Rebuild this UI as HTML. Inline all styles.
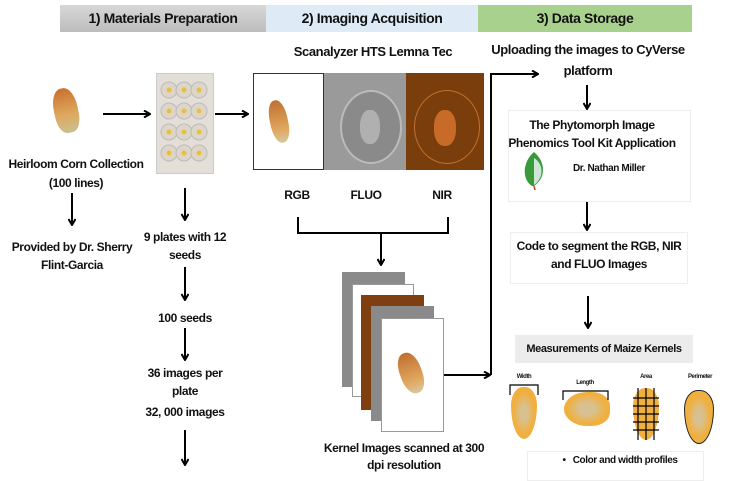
<!DOCTYPE html>
<html><head><style>
body{margin:0;width:731px;height:476px;background:#fff;position:relative;overflow:hidden;font-family:"Liberation Sans Narrow","Liberation Sans",sans-serif;font-weight:bold;color:#111}
.t{position:absolute;font-size:12px;text-align:center;white-space:nowrap;transform:translateX(-50%);letter-spacing:-0.4px;line-height:18px}
.a{position:absolute}
</style></head><body>
<div class="a" style="left:60px;top:5px;width:206px;height:27px;background:linear-gradient(#d8d8d8,#bdbdbd)"></div>
<div class="a" style="left:266px;top:5px;width:212px;height:27px;background:#deebf7"></div>
<div class="a" style="left:478px;top:5px;width:214px;height:27px;background:#a9d18e"></div>
<div class="t" style="left:163px;top:9px;font-size:14px">1) Materials Preparation</div>
<div class="t" style="left:372px;top:9px;font-size:14px">2) Imaging Acquisition</div>
<div class="t" style="left:585px;top:9px;font-size:14px">3) Data Storage</div>

<div class="t" style="left:373px;top:43px;font-size:13px">Scanalyzer HTS Lemna Tec</div>
<div class="t" style="left:588px;top:39px;font-size:13px;line-height:21px">Uploading the images to CyVerse<br>platform</div>

<!-- kernel -->
<div class="a" style="left:54px;top:88px;width:24px;height:45px;border-radius:45% 45% 40% 40%;background:linear-gradient(#c8722e,#e0a860 60%,#c9c090);transform:rotate(-12deg)"></div>
<!-- plate -->
<div class="a" style="left:156px;top:73px;width:56px;height:99px;background:#e3dfd8;border:1px solid #ccc"></div>
<svg class="a" style="left:156px;top:73px" width="56" height="99">
<g fill="#ddd6c8" stroke="#bbb">
<circle cx="13" cy="17" r="8"/><circle cx="28" cy="17" r="8"/><circle cx="43" cy="17" r="8"/>
<circle cx="13" cy="38" r="8"/><circle cx="28" cy="38" r="8"/><circle cx="43" cy="38" r="8"/>
<circle cx="13" cy="59" r="8"/><circle cx="28" cy="59" r="8"/><circle cx="43" cy="59" r="8"/>
<circle cx="13" cy="80" r="8"/><circle cx="28" cy="80" r="8"/><circle cx="43" cy="80" r="8"/></g>
<g fill="#e8c040"><circle cx="13" cy="17" r="2.5"/><circle cx="28" cy="17" r="2.5"/><circle cx="43" cy="17" r="2.5"/><circle cx="13" cy="38" r="2.5"/><circle cx="28" cy="38" r="2.5"/><circle cx="43" cy="38" r="2.5"/><circle cx="13" cy="59" r="2.5"/><circle cx="28" cy="59" r="2.5"/><circle cx="43" cy="59" r="2.5"/><circle cx="13" cy="80" r="2.5"/><circle cx="28" cy="80" r="2.5"/><circle cx="43" cy="80" r="2.5"/></g>
</svg>
<!-- image strip -->
<div class="a" style="left:253px;top:73px;width:71px;height:97px;background:#fff;border:1px solid #333;box-sizing:border-box"></div>
<div class="a" style="left:270px;top:100px;width:18px;height:43px;border-radius:45%;background:linear-gradient(#c07030,#e0a860 70%,#d8c8a0);transform:rotate(-12deg)"></div>
<div class="a" style="left:324px;top:73px;width:82px;height:97px;background:#9a9a9a"></div>
<div class="a" style="left:340px;top:90px;width:58px;height:70px;border-radius:50%;background:#8a8a8a;border:2px solid #bbb"></div>
<div class="a" style="left:360px;top:110px;width:20px;height:34px;border-radius:45%;background:#b0b0b0"></div>
<div class="a" style="left:406px;top:73px;width:78px;height:97px;background:#7a3e0c"></div>
<div class="a" style="left:414px;top:90px;width:64px;height:72px;border-radius:50%;border:1px solid #c07030"></div>
<div class="a" style="left:434px;top:110px;width:22px;height:36px;border-radius:45%;background:#c86a28"></div>

<div class="t" style="left:76px;top:155px;line-height:19px">Heirloom Corn Collection<br>(100 lines)</div>
<div class="t" style="left:72px;top:238px">Provided by Dr. Sherry<br>Flint-Garcia</div>
<div class="t" style="left:185px;top:228px">9 plates with 12<br>seeds</div>
<div class="t" style="left:185px;top:309px">100 seeds</div>
<div class="t" style="left:185px;top:364px">36 images per<br>plate</div>
<div class="t" style="left:185px;top:403px">32, 000 images</div>
<div class="t" style="left:297px;top:186px">RGB</div>
<div class="t" style="left:366px;top:186px">FLUO</div>
<div class="t" style="left:442px;top:186px">NIR</div>

<!-- stack -->
<div class="a" style="left:342px;top:272px;width:63px;height:115px;background:#8a8a8a"></div>
<div class="a" style="left:352px;top:284px;width:62px;height:113px;background:#fff;border:1px solid #999;box-sizing:border-box"></div>
<div class="a" style="left:361px;top:295px;width:63px;height:115px;background:#7f3f10"></div>
<div class="a" style="left:371px;top:306px;width:63px;height:115px;background:#8a8a8a"></div>
<div class="a" style="left:381px;top:318px;width:63px;height:114px;background:#fff;border:1px solid #999;box-sizing:border-box"></div>
<div class="a" style="left:400px;top:352px;width:22px;height:42px;border-radius:45%;background:linear-gradient(#c07030,#e0a860 70%,#d8c8a0);transform:rotate(-20deg)"></div>
<div class="t" style="left:404px;top:440px;line-height:17px">Kernel Images scanned at 300<br>dpi resolution</div>

<!-- right column -->
<div class="a" style="left:508px;top:110px;width:183px;height:92px;border:1px solid #eee;box-sizing:border-box"></div>
<div class="t" style="left:592px;top:116px;line-height:18px">The Phytomorph Image<br>Phenomics Tool Kit Application</div>
<svg class="a" style="left:520px;top:150px" width="28" height="40"><path d="M14 2 C2 12 2 30 12 36 L14 36 C26 28 26 12 14 2Z" fill="#3a9a3a"/><path d="M14 8 C24 14 24 28 14 35Z" fill="#cde6d8"/><line x1="14" y1="36" x2="15" y2="40" stroke="#c04020" stroke-width="1.5"/></svg>
<div class="t" style="left:609px;top:160px;font-size:10px">Dr. Nathan Miller</div>
<div class="a" style="left:510px;top:232px;width:178px;height:52px;border:1px solid #eee;box-sizing:border-box"></div>
<div class="t" style="left:599px;top:237px;line-height:18px">Code to segment the RGB, NIR<br>and FLUO Images</div>
<div class="a" style="left:515px;top:335px;width:178px;height:28px;background:#ececec"></div>
<div class="t" style="left:604px;top:340px;font-size:11px">Measurements of Maize Kernels</div>
<div class="a" style="left:527px;top:451px;width:177px;height:30px;border:1px solid #eee;box-sizing:border-box"></div>
<div class="t" style="left:620px;top:452px;font-size:10px">•&nbsp;&nbsp; Color and width profiles</div>
<div class="t" style="left:524px;top:373px;font-size:6px;line-height:8px">Width</div>
<div class="t" style="left:585px;top:379px;font-size:6px;line-height:8px">Length</div>
<div class="t" style="left:646px;top:373px;font-size:6px;line-height:8px">Area</div>
<div class="t" style="left:700px;top:373px;font-size:6px;line-height:8px">Perimeter</div>
<div class="a" style="left:511px;top:387px;width:26px;height:52px;border-radius:45% 45% 50% 50%/35% 35% 65% 65%;background:radial-gradient(#d8c090 20%,#f0b040 55%)"></div>
<div class="a" style="left:564px;top:392px;width:46px;height:34px;border-radius:50% 40% 40% 50%;background:radial-gradient(#d8c090 25%,#f0b040 60%)"></div>
<div class="a" style="left:633px;top:388px;width:26px;height:52px;border-radius:45% 45% 50% 50%/35% 35% 65% 65%;background:#f0b040"></div>
<div class="a" style="left:684px;top:390px;width:28px;height:52px;border-radius:45% 45% 50% 50%/35% 35% 65% 65%;background:radial-gradient(#d8c090 20%,#f0b040 55%);border:1.5px solid #222"></div>

<svg class="a" style="left:0;top:0" width="731" height="476" fill="none" stroke="#000" stroke-width="2">
<defs><marker id="h" markerWidth="8" markerHeight="8" refX="7" refY="4" orient="auto" markerUnits="userSpaceOnUse"><path d="M1 0.5 L7 4 L1 7.5" fill="none" stroke="#000" stroke-width="2"/></marker></defs>
<line x1="103" y1="114" x2="150" y2="114" marker-end="url(#h)"/>
<line x1="215" y1="114" x2="248" y2="114" marker-end="url(#h)"/>
<line x1="72" y1="193" x2="72" y2="225" marker-end="url(#h)"/>
<line x1="185" y1="188" x2="185" y2="220" marker-end="url(#h)"/>
<line x1="185" y1="267" x2="185" y2="300" marker-end="url(#h)"/>
<line x1="185" y1="328" x2="185" y2="360" marker-end="url(#h)"/>
<line x1="185" y1="430" x2="185" y2="465" marker-end="url(#h)"/>
<polyline points="298,217 298,233 448,233 448,217"/>
<line x1="381" y1="233" x2="381" y2="265" marker-end="url(#h)"/>
<polyline points="444,375 490,375" />
<line x1="482" y1="375" x2="490" y2="375" marker-end="url(#h)"/>
<polyline points="491,375 491,74 538,74" marker-end="url(#h)"/>
<line x1="587" y1="85" x2="587" y2="109" marker-end="url(#h)"/>
<line x1="587" y1="202" x2="587" y2="230" marker-end="url(#h)"/>
<line x1="588" y1="296" x2="588" y2="328" marker-end="url(#h)"/>
<g stroke-width="1.2">
<polyline points="510,395 510,385 538,385 538,395"/>
<polyline points="563,400 563,391 608,391 608,400"/>
<path d="M633 398H659M633 406H659M633 414H659M633 422H659M633 430H659M638 388V440M646 388V440M654 388V440"/>
</g>
</svg>
</body></html>
